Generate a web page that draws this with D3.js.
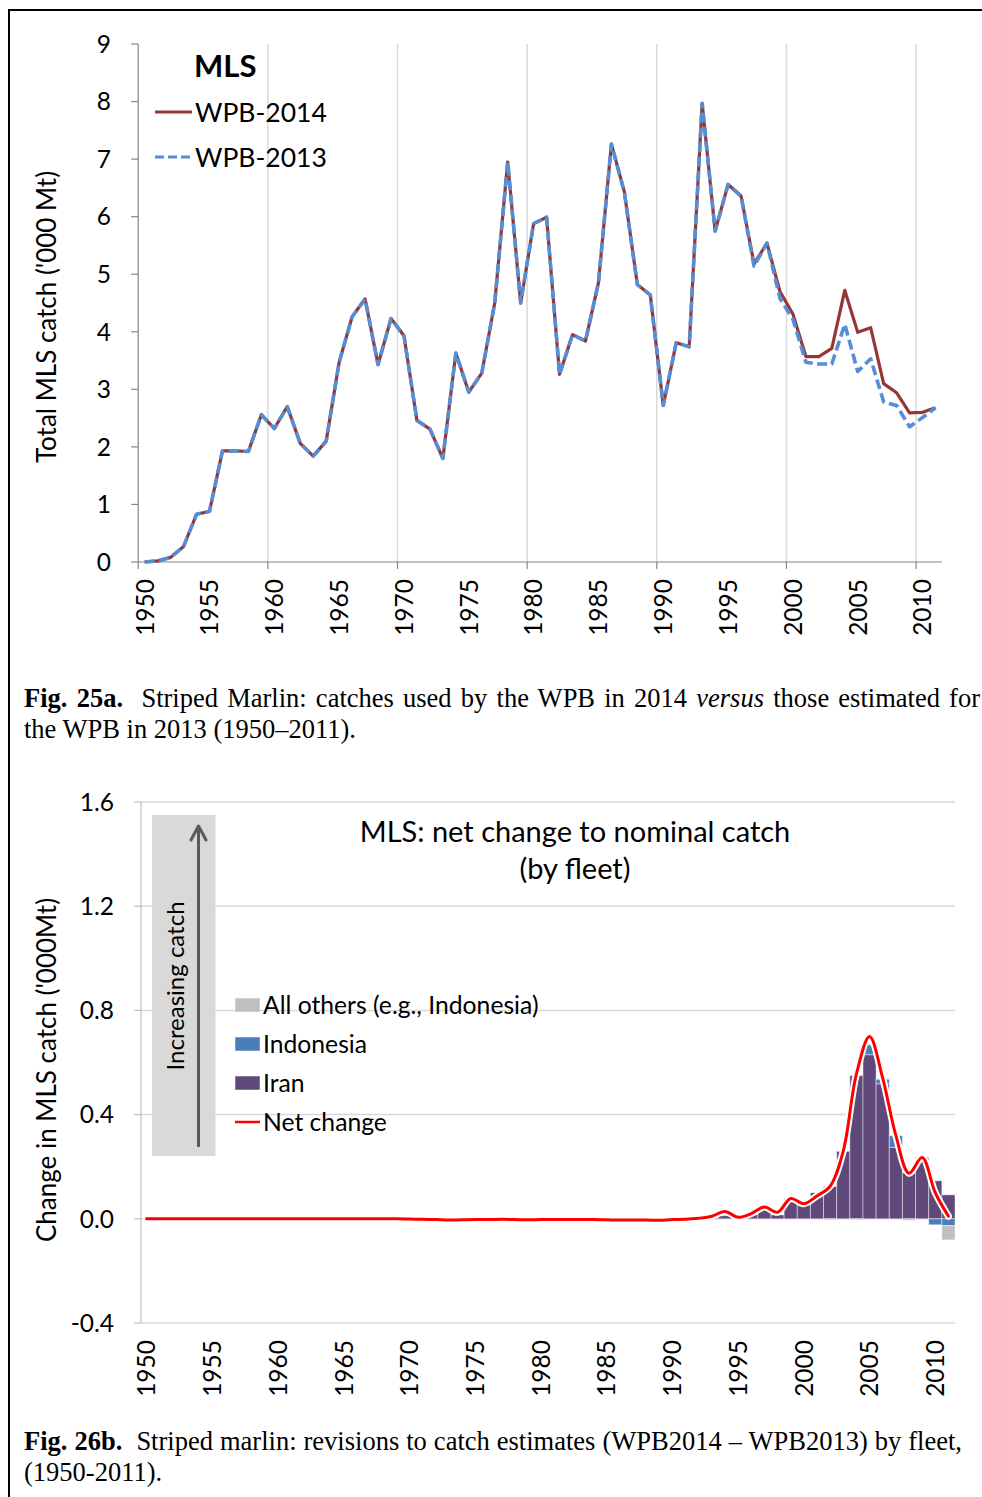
<!DOCTYPE html>
<html>
<head>
<meta charset="utf-8">
<script src="https://cdn.jsdelivr.net/npm/d3@7"></script>
<style>
  html, body { margin: 0; padding: 0; background: #fff; }
  svg { display: block; }
  text { white-space: pre; }
</style>
</head>
<body>
<script>
// ---- Data -------------------------------------------------------------
const years = d3.range(1950, 2012);

// Total striped marlin catch ('000 t), WPB-2014 series
const wpb2014 = [
  0.00, 0.02, 0.08, 0.27, 0.83, 0.88, 1.93, 1.93, 1.92, 2.56,   // 1950s
  2.32, 2.70, 2.06, 1.84, 2.10, 3.47, 4.26, 4.57, 3.43, 4.23,   // 1960s
  3.93, 2.46, 2.31, 1.80, 3.63, 2.95, 3.28, 4.50, 6.95, 4.50,   // 1970s
  5.88, 5.99, 3.26, 3.95, 3.84, 4.85, 7.26, 6.43, 4.82, 4.64,   // 1980s
  2.72, 3.81, 3.74, 7.97, 5.75, 6.56, 6.36, 5.18, 5.54, 4.70,   // 1990s
  4.31, 3.57, 3.57, 3.71, 4.72, 3.99, 4.07, 3.10, 2.94, 2.59,   // 2000s
  2.60, 2.68
];

// Total striped marlin catch ('000 t), WPB-2013 series
const wpb2013 = [
  0.00, 0.02, 0.08, 0.27, 0.83, 0.88, 1.93, 1.93, 1.92, 2.56,
  2.32, 2.70, 2.06, 1.84, 2.10, 3.47, 4.26, 4.57, 3.43, 4.23,
  3.93, 2.46, 2.31, 1.80, 3.63, 2.95, 3.28, 4.50, 6.95, 4.50,
  5.88, 5.99, 3.26, 3.95, 3.84, 4.85, 7.26, 6.43, 4.82, 4.64,
  2.72, 3.81, 3.74, 7.97, 5.75, 6.56, 6.36, 5.14, 5.54, 4.58,
  4.22, 3.47, 3.44, 3.44, 4.13, 3.31, 3.53, 2.78, 2.72, 2.35,
  2.51, 2.68
];

// Revisions by fleet ('000 t)
const iran = [
  0, 0, 0, 0, 0, 0, 0, 0, 0, 0,
  0, 0, 0, 0, 0, 0, 0, 0, 0, 0,
  0, 0, 0, 0, 0, 0, 0, 0, 0, 0,
  0, 0, 0, 0, 0, 0, 0, 0, 0, 0,
  0, 0, 0, 0.004, 0.012, 0.004, 0.015, 0.041, 0.015, 0.079,
  0.060, 0.100, 0.124, 0.259, 0.550, 0.630, 0.518, 0.274, 0.176, 0.236,
  0.146, 0.092
];
const indonesia = [
  0, 0, 0, 0, 0, 0, 0, 0, 0, 0,
  0, 0, 0, 0, 0, 0, 0, 0, 0, 0,
  0, 0, 0, 0, 0, 0, 0, 0, 0, 0,
  0, 0, 0, 0, 0, 0, 0, 0, 0, 0,
  0, 0, 0, 0, 0, 0, 0, 0, 0, 0,
  0, 0, 0, 0, 0, 0.038, 0.018, 0.045, 0, 0,
  -0.023, -0.026
];
const allOthers = [
  0, 0, 0, 0, 0, 0, 0, 0, 0, 0,
  0, 0, 0, 0, 0, 0, 0, 0, 0, 0,
  -0.001, -0.002, -0.003, -0.005, -0.004, -0.003, -0.003, -0.002, -0.003, -0.004,
  -0.003, -0.003, -0.003, -0.003, -0.003, -0.004, -0.005, -0.005, -0.005, -0.006,
  -0.003, -0.002, 0, 0, 0, 0, 0, 0, 0, 0,
  0, 0, -0.004, 0, -0.004, 0.004, 0.004, 0, -0.006, 0.003,
  0, -0.055
];
const netChange = [
  0, 0, 0, 0, 0, 0, 0, 0, 0, 0,
  0, 0, 0, 0, 0, 0, 0, 0, 0, 0,
  -0.001, -0.002, -0.003, -0.005, -0.004, -0.003, -0.003, -0.002, -0.003, -0.004,
  -0.003, -0.003, -0.003, -0.003, -0.003, -0.004, -0.005, -0.005, -0.005, -0.006,
  -0.003, -0.002, 0.002, 0.010, 0.028, 0.006, 0.020, 0.045, 0.025, 0.078,
  0.058, 0.088, 0.125, 0.260, 0.555, 0.700, 0.540, 0.320, 0.175, 0.235,
  0.100, 0.010
];

const topTicks = [0, 1, 2, 3, 4, 5, 6, 7, 8, 9];
const bottomTicks = [-0.4, 0, 0.4, 0.8, 1.2, 1.6];
const labelYears = [1950, 1955, 1960, 1965, 1970, 1975, 1980, 1985, 1990, 1995, 2000, 2005, 2010];
const gridYears = [1960, 1970, 1980, 1990, 2000, 2010];
const tickYears = [1950, 1960, 1970, 1980, 1990, 2000, 2010];

// ---- Setup ------------------------------------------------------------
const W = 982, H = 1497;
const SANS = "Lato, 'Open Sans', sans-serif";
const SERIF = "'Liberation Serif', 'Times New Roman', serif";
const AXIS = "#868686", GRID = "#D9D9D9";

const svg = d3.select("body").append("svg")
  .attr("width", W).attr("height", H)
  .attr("viewBox", `0 0 ${W} ${H}`);

svg.append("rect").attr("width", W).attr("height", H).attr("fill", "#fff");

// Frame around the figures
svg.append("path")
  .attr("d", `M9,${H}V10H${W}`)
  .attr("fill", "none").attr("stroke", "#000").attr("stroke-width", 2);

// ---- Figure 25a: total catch lines ----------------------------------
const xT = d3.scaleBand().domain(years).range([138.2, 942]);
const yT = d3.scaleLinear().domain([0, 9]).range([562, 44]);
const bwT = xT.bandwidth();

const gTop = svg.append("g");

gTop.selectAll("line.vgrid").data(gridYears).join("line")
  .attr("class", "vgrid")
  .attr("x1", d => xT(d)).attr("x2", d => xT(d))
  .attr("y1", yT(9)).attr("y2", yT(0))
  .attr("stroke", GRID).attr("stroke-width", 1.5);

// y axis
gTop.append("line")
  .attr("x1", xT(1950)).attr("x2", xT(1950))
  .attr("y1", yT(9)).attr("y2", yT(0))
  .attr("stroke", AXIS).attr("stroke-width", 1.2);
gTop.selectAll("line.ytick").data(topTicks).join("line")
  .attr("class", "ytick")
  .attr("x1", xT(1950) - 7).attr("x2", xT(1950))
  .attr("y1", d => yT(d)).attr("y2", d => yT(d))
  .attr("stroke", AXIS).attr("stroke-width", 1.2);
gTop.selectAll("text.ylab").data(topTicks).join("text")
  .attr("class", "ylab")
  .attr("x", 111).attr("y", d => yT(d)).attr("dy", "0.36em")
  .attr("text-anchor", "end")
  .attr("font-family", SANS).attr("font-size", 24.5).attr("fill", "#000")
  .text(d => d);

// x axis
gTop.append("line")
  .attr("x1", xT(1950)).attr("x2", xT(2011) + bwT)
  .attr("y1", yT(0)).attr("y2", yT(0))
  .attr("stroke", AXIS).attr("stroke-width", 1.2);
gTop.selectAll("line.xtick").data(tickYears).join("line")
  .attr("class", "xtick")
  .attr("x1", d => xT(d)).attr("x2", d => xT(d))
  .attr("y1", yT(0)).attr("y2", yT(0) + 7)
  .attr("stroke", AXIS).attr("stroke-width", 1.2);
gTop.selectAll("text.xlab").data(labelYears).join("text")
  .attr("class", "xlab")
  .attr("transform", d => `translate(${xT(d) + bwT / 2},${yT(0) + 17}) rotate(-90)`)
  .attr("dy", "0.36em").attr("text-anchor", "end")
  .attr("font-family", SANS).attr("font-size", 24.5).attr("fill", "#000")
  .text(d => d);

// y axis title
gTop.append("text")
  .attr("transform", "translate(47,317) rotate(-90)")
  .attr("dy", "0.36em").attr("text-anchor", "middle")
  .attr("font-family", SANS).attr("font-size", 26).attr("fill", "#000")
  .text("Total MLS catch ('000 Mt)");

const lineT = (arr) => d3.line()
  .x((d, i) => xT(years[i]) + bwT / 2)
  .y(d => yT(d))(arr);

gTop.append("path")
  .attr("d", lineT(wpb2014))
  .attr("fill", "none").attr("stroke", "#953735")
  .attr("stroke-width", 3.2).attr("stroke-linejoin", "round");
gTop.append("path")
  .attr("d", lineT(wpb2013))
  .attr("fill", "none").attr("stroke", "#558ED5")
  .attr("stroke-width", 3.6).attr("stroke-dasharray", "10,4.5")
  .attr("stroke-linejoin", "round");

// legend
gTop.append("text")
  .attr("x", 194).attr("y", 66).attr("dy", "0.36em")
  .attr("font-family", SANS).attr("font-size", 31).attr("font-weight", "bold")
  .attr("fill", "#000").text("MLS");
const topLegend = [
  { name: "WPB-2014", color: "#953735", dash: null, y: 112 },
  { name: "WPB-2013", color: "#558ED5", dash: "9,4", y: 157 }
];
const tl = gTop.selectAll("g.tleg").data(topLegend).join("g").attr("class", "tleg");
tl.append("line")
  .attr("x1", 155).attr("x2", 192)
  .attr("y1", d => d.y).attr("y2", d => d.y)
  .attr("stroke", d => d.color).attr("stroke-width", 3.2)
  .attr("stroke-dasharray", d => d.dash);
tl.append("text")
  .attr("x", 195).attr("y", d => d.y).attr("dy", "0.36em")
  .attr("font-family", SANS).attr("font-size", 26.5).attr("fill", "#000")
  .text(d => d.name);

// ---- Captions ---------------------------------------------------------
function caption(segments, x, y, justifyTo) {
  const t = svg.append("text")
    .attr("x", x).attr("y", y)
    .attr("font-family", SERIF).attr("font-size", 26.5).attr("fill", "#000");
  segments.forEach(s => {
    t.append("tspan")
      .attr("font-weight", s.b ? "bold" : null)
      .attr("font-style", s.i ? "italic" : null)
      .text(s.t);
  });
  if (justifyTo) {
    const natural = t.node().getComputedTextLength();
    const spaces = segments.map(s => s.t).join("").split(" ").length - 1;
    const extra = (justifyTo - x - natural) / spaces;
    t.style("word-spacing", `${extra}px`);
  }
  return t;
}

caption([
  { t: "Fig. 25a.", b: true },
  { t: "  Striped Marlin: catches used by the WPB in 2014 " },
  { t: "versus", i: true },
  { t: " those estimated for" }
], 24, 707, 980);
caption([{ t: "the WPB in 2013 (1950\u20132011)." }], 24, 738);

caption([
  { t: "Fig. 26b.", b: true },
  { t: "  Striped marlin: revisions to catch estimates (WPB2014 \u2013 WPB2013) by fleet," }
], 24, 1450, 962);
caption([{ t: "(1950-2011)." }], 24, 1481);

// ---- Figure 26b: revisions by fleet ----------------------------------
const xB = d3.scaleBand().domain(years).range([140, 955]);
const yB = d3.scaleLinear().domain([-0.4, 1.6]).range([1323, 802]);
const bwB = xB.bandwidth();

const gBot = svg.append("g");

gBot.selectAll("line.hgrid").data(bottomTicks).join("line")
  .attr("class", "hgrid")
  .attr("x1", 141).attr("x2", 955)
  .attr("y1", d => yB(d)).attr("y2", d => yB(d))
  .attr("stroke", GRID).attr("stroke-width", 1.5);

gBot.append("line")
  .attr("x1", 141).attr("x2", 141)
  .attr("y1", yB(1.6)).attr("y2", yB(-0.4))
  .attr("stroke", "#BFBFBF").attr("stroke-width", 1.2);
gBot.selectAll("line.ytick").data(bottomTicks).join("line")
  .attr("class", "ytick")
  .attr("x1", 134).attr("x2", 141)
  .attr("y1", d => yB(d)).attr("y2", d => yB(d))
  .attr("stroke", "#BFBFBF").attr("stroke-width", 1.2);
gBot.selectAll("text.ylab").data(bottomTicks).join("text")
  .attr("class", "ylab")
  .attr("x", 114).attr("y", d => yB(d)).attr("dy", "0.36em")
  .attr("text-anchor", "end")
  .attr("font-family", SANS).attr("font-size", 24.5).attr("fill", "#000")
  .text(d => d3.format(".1f")(d).replace("\u2212", "-"));

gBot.selectAll("text.xlab").data(labelYears).join("text")
  .attr("class", "xlab")
  .attr("transform", d => `translate(${xB(d) + bwB / 2},${yB(-0.4) + 17}) rotate(-90)`)
  .attr("dy", "0.36em").attr("text-anchor", "end")
  .attr("font-family", SANS).attr("font-size", 24.5).attr("fill", "#000")
  .text(d => d);

gBot.append("text")
  .attr("transform", "translate(47,1070) rotate(-90)")
  .attr("dy", "0.36em").attr("text-anchor", "middle")
  .attr("font-family", SANS).attr("font-size", 26).attr("fill", "#000")
  .text("Change in MLS catch ('000Mt)");

// "Increasing catch" panel
gBot.append("rect")
  .attr("x", 152).attr("y", 815).attr("width", 63.5).attr("height", 341)
  .attr("fill", "#D9D9D9");
gBot.append("line")
  .attr("x1", 198.5).attr("x2", 198.5).attr("y1", 1147).attr("y2", 827)
  .attr("stroke", "#595959").attr("stroke-width", 3);
gBot.append("path")
  .attr("d", "M191,840L198.5,826L206,840")
  .attr("fill", "none").attr("stroke", "#595959").attr("stroke-width", 3)
  .attr("stroke-linecap", "round").attr("stroke-linejoin", "round");
gBot.append("text")
  .attr("transform", "translate(175,986) rotate(-90)")
  .attr("dy", "0.36em").attr("text-anchor", "middle")
  .attr("font-family", SANS).attr("font-size", 24).attr("fill", "#000")
  .text("Increasing catch");

// Title
gBot.append("text")
  .attr("x", 575).attr("y", 832).attr("dy", "0.36em").attr("text-anchor", "middle")
  .attr("font-family", SANS).attr("font-size", 29).attr("fill", "#000")
  .text("MLS: net change to nominal catch");
gBot.append("text")
  .attr("x", 575).attr("y", 869).attr("dy", "0.36em").attr("text-anchor", "middle")
  .attr("font-family", SANS).attr("font-size", 29).attr("fill", "#000")
  .text("(by fleet)");

// Stacked bars (positives up, negatives down)
const rows = years.map((yr, i) => ({
  year: yr, iran: iran[i], indonesia: indonesia[i], others: allOthers[i]
}));
const fleetColor = { iran: "#5F497A", indonesia: "#4A7EBB", others: "#BFBFBF" };
const stacked = d3.stack()
  .keys(["iran", "indonesia", "others"])
  .offset(d3.stackOffsetDiverging)(rows);

gBot.selectAll("g.series").data(stacked).join("g")
  .attr("class", "series")
  .attr("fill", d => fleetColor[d.key])
  .selectAll("rect")
  .data(d => d.filter(p => p[1] !== p[0]))
  .join("rect")
  .attr("x", d => xB(d.data.year))
  .attr("width", bwB)
  .attr("y", d => yB(Math.max(d[0], d[1])))
  .attr("height", d => Math.abs(yB(d[0]) - yB(d[1])))
  .attr("stroke", "rgba(255,255,255,0.45)").attr("stroke-width", 1);

// Net change (smoothed) with a white halo
const netLine = d3.line()
  .curve(d3.curveCatmullRom.alpha(0.5))
  .x((d, i) => xB(years[i]) + bwB / 2)
  .y(d => yB(d));
gBot.append("path")
  .attr("d", netLine(netChange))
  .attr("fill", "none").attr("stroke", "#fff").attr("stroke-width", 7)
  .attr("stroke-linejoin", "round").attr("stroke-linecap", "round");
gBot.append("path")
  .attr("d", netLine(netChange))
  .attr("fill", "none").attr("stroke", "#FF0000").attr("stroke-width", 3)
  .attr("stroke-linejoin", "round").attr("stroke-linecap", "round");

// Legend
const botLegend = [
  { name: "All others (e.g., Indonesia)", key: "others", y: 1005 },
  { name: "Indonesia", key: "indonesia", y: 1044 },
  { name: "Iran", key: "iran", y: 1083 },
  { name: "Net change", key: "net", y: 1122 }
];
const bl = gBot.selectAll("g.bleg").data(botLegend).join("g").attr("class", "bleg");
bl.filter(d => d.key !== "net").append("rect")
  .attr("x", 235).attr("y", d => d.y - 7).attr("width", 25).attr("height", 14)
  .attr("fill", d => fleetColor[d.key])
  .attr("stroke", "rgba(255,255,255,0.5)").attr("stroke-width", 1);
bl.filter(d => d.key === "net").append("line")
  .attr("x1", 235).attr("x2", 260).attr("y1", d => d.y).attr("y2", d => d.y)
  .attr("stroke", "#FF0000").attr("stroke-width", 2.5);
bl.append("text")
  .attr("x", 263).attr("y", d => d.y).attr("dy", "0.36em")
  .attr("font-family", SANS).attr("font-size", 24.7).attr("fill", "#000")
  .text(d => d.name);
</script>
</body>
</html>
